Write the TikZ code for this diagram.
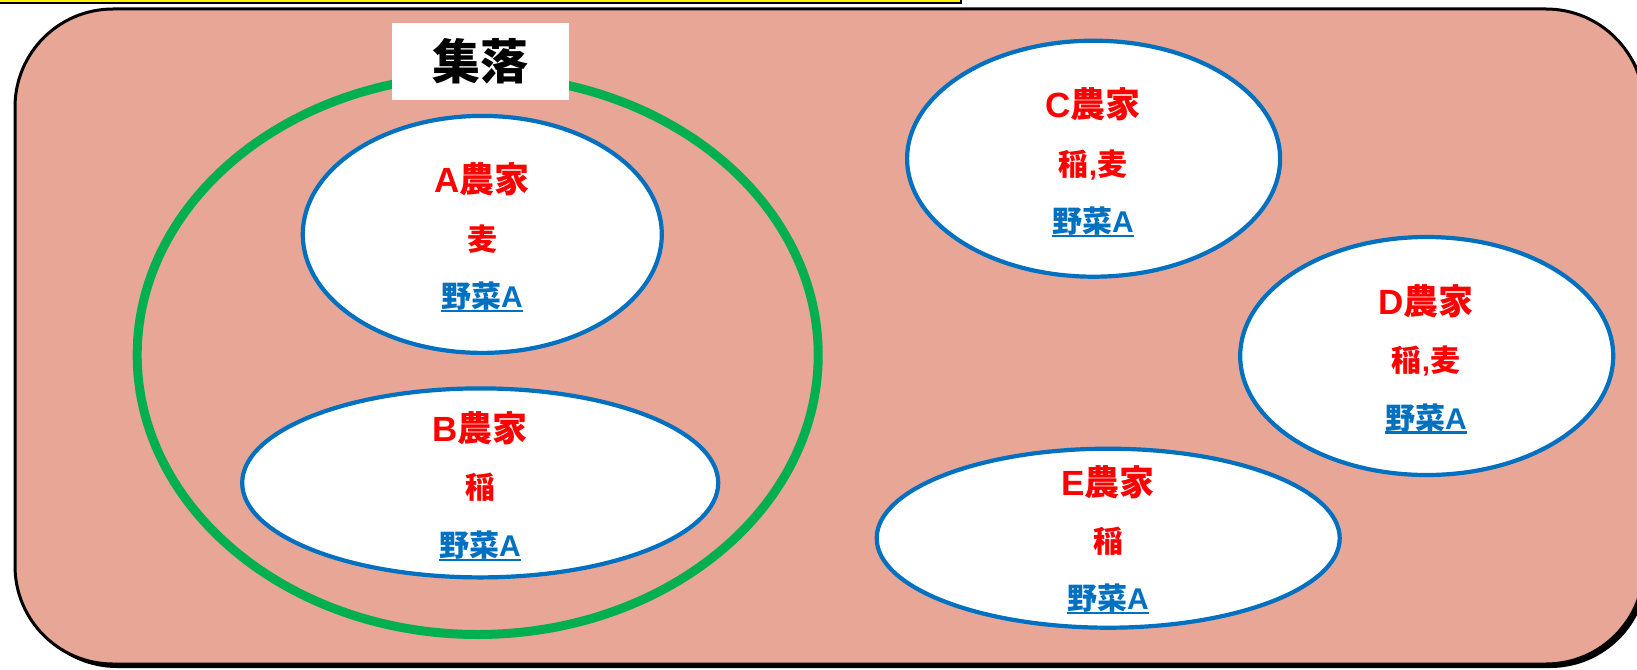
\documentclass[tikz,border=0pt]{standalone}
\usepackage{fontspec}
\usetikzlibrary{shapes.geometric}
\newfontfamily\jp{Noto Sans CJK JP}
\newfontfamily\latf{Liberation Sans}
\definecolor{bgpink}{RGB}{231,166,150}
\definecolor{offblue}{RGB}{0,112,192}
\definecolor{offgreen}{RGB}{0,176,80}
\definecolor{offred}{RGB}{255,0,0}
\newcommand\myul[1]{\setbox0\hbox{#1}\rlap{\rule[-4.5pt]{\wd0}{2.2pt}}\box0}
\begin{document}
\begin{tikzpicture}[x=1pt,y=-1pt,
  farm/.style={ellipse, draw=offblue, line width=4.2pt, fill=white, inner sep=0pt},
  tone/.style={font=\jp\bfseries\fontsize{35}{40}\selectfont, text=offred, text height=30.8pt, text depth=4.2pt, inner sep=0pt},
  ttwo/.style={font=\jp\bfseries\fontsize{30}{36}\selectfont, text=offred, text height=26.4pt, text depth=3.6pt, inner sep=0pt},
  tthree/.style={ttwo, text=offblue}]
\useasboundingbox (0,0) rectangle (1637,669);
% yellow bar
\draw[fill=yellow, draw=black, line width=1.5pt] (-10,-10) rectangle (961,3);
% background rounded rectangle with shadow
\fill[black, rounded corners=98pt] (19,13) rectangle (1648,668);
\draw[fill=bgpink, draw=black, line width=3pt, rounded corners=98pt] (15,9) rectangle (1644,664);
% settlement
\node[ellipse, draw=offgreen, line width=9pt, inner sep=0pt, minimum width=681pt, minimum height=559pt] (village) at (477.7,355) {};
\node[fill=white, minimum width=177pt, minimum height=77pt, inner sep=0pt,
  font=\jp\bfseries\fontsize{48}{52}\selectfont, text height=42.2pt, text depth=5.8pt] (label) at (480.7,61.5) {集落};
% farms
\node[farm, minimum width=359pt, minimum height=237pt] (A) at (482.3,234.4) {};
\node[farm, minimum width=476pt, minimum height=189pt] (B) at (480.2,482.9) {};
\node[farm, minimum width=373pt, minimum height=236pt] (C) at (1093.6,158.7) {};
\node[farm, minimum width=373pt, minimum height=238pt] (D) at (1426.7,356) {};
\node[farm, minimum width=463pt, minimum height=179pt] (E) at (1108.2,538.2) {};
% texts A
\node[tone] (A1) at (482,179.6) {{\latf A}農家};
\node[ttwo] (A2) at (482,239) {麦};
\node[tthree] (A3) at (482,296.5) {\myul{野菜{\latf A}}};
% texts B
\node[tone] (B1) at (480,428) {{\latf B}農家};
\node[ttwo] (B2) at (480,487.5) {稲};
\node[tthree] (B3) at (480,545) {\myul{野菜{\latf A}}};
% texts C
\node[tone] (C1) at (1093,104.4) {{\latf C}農家};
\node[ttwo] (C2) at (1093,164) {稲{\latf ,}麦};
\node[tthree] (C3) at (1093,221) {\myul{野菜{\latf A}}};
% texts D
\node[tone] (D1) at (1426,300.7) {{\latf D}農家};
\node[ttwo] (D2) at (1426,360) {稲{\latf ,}麦};
\node[tthree] (D3) at (1426,417.6) {\myul{野菜{\latf A}}};
% texts E
\node[tone] (E1) at (1108,482) {{\latf E}農家};
\node[ttwo] (E2) at (1108,541) {稲};
\node[tthree] (E3) at (1108,598) {\myul{野菜{\latf A}}};
\end{tikzpicture}
\end{document}
